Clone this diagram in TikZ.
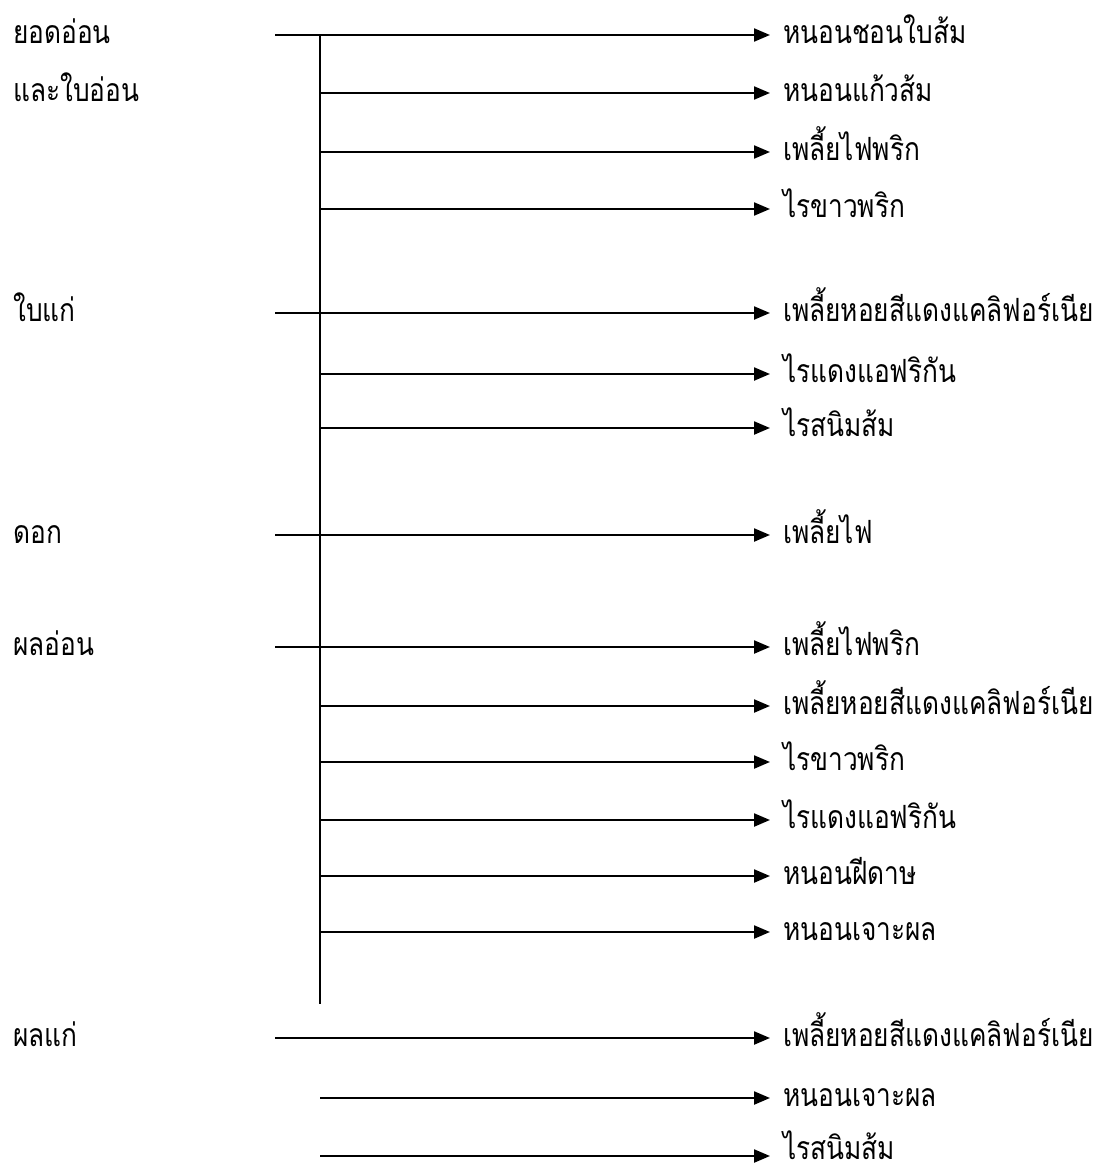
\documentclass[tikz,border=0pt]{standalone}
\usepackage{fontspec}
\newfontfamily\thaifont[Script=Thai,FakeStretch=0.82]{Loma}
\usetikzlibrary{arrows.meta}
\begin{document}
\begin{tikzpicture}[x=1pt,y=-1pt,
  lbl/.style={anchor=base west,inner sep=0pt,font=\thaifont\fontsize{32}{36}\selectfont},
  pest/.style={anchor=base west,inner xsep=13pt,inner ysep=0pt,font=\thaifont\fontsize{32}{36}\selectfont},
  link/.style={line width=2.2pt,-{Triangle[length=16pt,width=13pt]}},
  spine/.style={line width=1.1pt}]
\useasboundingbox (0,0) rectangle (1098,1165);
% spine
\coordinate (vtop) at (320,35);
\coordinate (vbot) at (320,1004);
\draw[spine] (vtop) -- (vbot);
% left labels
\node[lbl] (l1) at (13,43) {ยอดอ่อน};
\node[lbl] (l1b) at (13,101) {และใบอ่อน};
\node[lbl] (l2) at (13,321) {ใบแก่};
\node[lbl] (l3) at (13,543) {ดอก};
\node[lbl] (l4) at (13,655) {ผลอ่อน};
\node[lbl] (l5) at (13,1046) {ผลแก่};
% main line starts
\coordinate (s1) at (275,35);
\coordinate (s2) at (275,313);
\coordinate (s3) at (275,535);
\coordinate (s4) at (275,647);
\coordinate (s5) at (275,1038);
% branch starts
\coordinate (b12) at (320,93);
\coordinate (b13) at (320,152);
\coordinate (b14) at (320,209);
\coordinate (b22) at (320,374);
\coordinate (b23) at (320,428);
\coordinate (b42) at (320,706);
\coordinate (b43) at (320,762);
\coordinate (b44) at (320,820);
\coordinate (b45) at (320,876);
\coordinate (b46) at (320,932);
\coordinate (b52) at (320,1098);
\coordinate (b53) at (320,1156);
% pest labels (baseline 8px below the arrow)
\node[pest] (p11) at (770,43) {หนอนชอนใบส้ม};
\node[pest] (p12) at (770,101) {หนอนแก้วส้ม};
\node[pest] (p13) at (770,160) {เพลี้ยไฟพริก};
\node[pest] (p14) at (770,217) {ไรขาวพริก};
\node[pest] (p21) at (770,321) {เพลี้ยหอยสีแดงแคลิฟอร์เนีย};
\node[pest] (p22) at (770,382) {ไรแดงแอฟริกัน};
\node[pest] (p23) at (770,436) {ไรสนิมส้ม};
\node[pest] (p31) at (770,543) {เพลี้ยไฟ};
\node[pest] (p41) at (770,655) {เพลี้ยไฟพริก};
\node[pest] (p42) at (770,714) {เพลี้ยหอยสีแดงแคลิฟอร์เนีย};
\node[pest] (p43) at (770,770) {ไรขาวพริก};
\node[pest] (p44) at (770,828) {ไรแดงแอฟริกัน};
\node[pest] (p45) at (770,884) {หนอนฝีดาษ};
\node[pest] (p46) at (770,940) {หนอนเจาะผล};
\node[pest] (p51) at (770,1046) {เพลี้ยหอยสีแดงแคลิฟอร์เนีย};
\node[pest] (p52) at (770,1106) {หนอนเจาะผล};
\node[pest,text depth=0pt] (p53) at (770,1159) {ไรสนิมส้ม};
% connectors
\draw[link] (s1) -- (s1 -| p11.west);
\draw[link] (b12) -- (b12 -| p12.west);
\draw[link] (b13) -- (b13 -| p13.west);
\draw[link] (b14) -- (b14 -| p14.west);
\draw[link] (s2) -- (s2 -| p21.west);
\draw[link] (b22) -- (b22 -| p22.west);
\draw[link] (b23) -- (b23 -| p23.west);
\draw[link] (s3) -- (s3 -| p31.west);
\draw[link] (s4) -- (s4 -| p41.west);
\draw[link] (b42) -- (b42 -| p42.west);
\draw[link] (b43) -- (b43 -| p43.west);
\draw[link] (b44) -- (b44 -| p44.west);
\draw[link] (b45) -- (b45 -| p45.west);
\draw[link] (b46) -- (b46 -| p46.west);
\draw[link] (s5) -- (s5 -| p51.west);
\draw[link] (b52) -- (b52 -| p52.west);
\draw[link] (b53) -- (b53 -| p53.west);
\end{tikzpicture}
\end{document}
